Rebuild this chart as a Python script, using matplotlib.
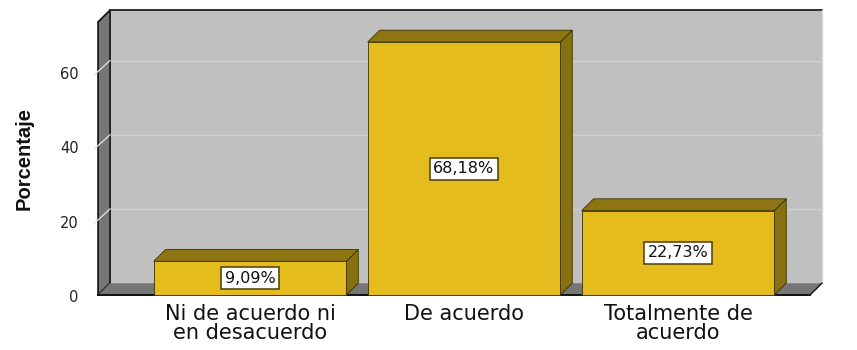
import matplotlib
matplotlib.use("Agg")
import matplotlib.pyplot as plt
from matplotlib.patches import Polygon, Rectangle

categories = ["Ni de acuerdo ni\nen desacuerdo", "De acuerdo", "Totalmente de\nacuerdo"]
percentages = [9.09, 68.18, 22.73]
value_labels = ["9,09%", "68,18%", "22,73%"]
y_ticks = [0, 20, 40, 60]
y_label = "Porcentaje"

# 3D-look geometry (data units)
BAR_W = 0.9
DX, DY = 0.056, 3.2          # depth offset of the bars / walls
X_LEFT, X_RIGHT = -0.71, 2.617
Y_TOP = 73.6

FRONT = "#E4BC1E"
TOP = "#8E7514"
SIDE = "#87700F"
EDGE = "#3a3000"
WALL = "#C0C0C0"
GRID = "#D0D0D0"
DARK = "#767676"

fig = plt.figure(figsize=(8.57, 3.5), dpi=100)
ax = fig.add_axes([0, 0, 1, 1])
ax.set_xlim(-250 / 214, 607 / 214)
ax.set_ylim(-55 / 3.71, 295 / 3.71)
ax.axis("off")

# back wall
ax.add_patch(Rectangle((X_LEFT + DX, DY), X_RIGHT - X_LEFT, Y_TOP,
                       facecolor=WALL, edgecolor="none", zorder=1))
for t in y_ticks[1:]:
    ax.plot([X_LEFT + DX, X_RIGHT + DX], [t + DY, t + DY], color=GRID, lw=1, zorder=1.5)
# top border of the back wall
ax.plot([X_LEFT + DX, X_RIGHT + DX], [Y_TOP + DY, Y_TOP + DY], color="#222222", lw=1.3, zorder=2)
ax.plot([X_RIGHT + DX, X_RIGHT + DX], [DY, Y_TOP + DY], color="#d8d8d8", lw=1, zorder=2)

# left wall
ax.add_patch(Polygon([(X_LEFT, 0), (X_LEFT + DX, DY), (X_LEFT + DX, Y_TOP + DY), (X_LEFT, Y_TOP)],
                     closed=True, facecolor=DARK, edgecolor="#111111", lw=1.2, zorder=2))
for t in y_ticks[1:]:
    ax.plot([X_LEFT - 0.02, X_LEFT + DX], [t - 0.8, t + DY], color="#E6E6E6", lw=0.9, zorder=2.5)

# floor
ax.add_patch(Polygon([(X_LEFT, 0), (X_RIGHT, 0), (X_RIGHT + DX, DY), (X_LEFT + DX, DY)],
                     closed=True, facecolor=DARK, edgecolor="none", zorder=2))
ax.plot([X_LEFT, X_RIGHT], [0, 0], color="#111111", lw=1.4, zorder=2.6)
ax.plot([X_RIGHT, X_RIGHT + DX], [0, DY], color="#111111", lw=1.0, zorder=2.6)

# bars
for i, v in enumerate(percentages):
    x0, x1 = i - BAR_W / 2, i + BAR_W / 2
    ax.add_patch(Polygon([(x1, 0), (x1 + DX, DY), (x1 + DX, v + DY), (x1, v)],
                         closed=True, facecolor=SIDE, edgecolor=EDGE, lw=0.6, zorder=3))
    ax.add_patch(Polygon([(x0, v), (x1, v), (x1 + DX, v + DY), (x0 + DX, v + DY)],
                         closed=True, facecolor=TOP, edgecolor=EDGE, lw=0.6, zorder=3))
    ax.add_patch(Rectangle((x0, 0), BAR_W, v, facecolor=FRONT, edgecolor=EDGE, lw=0.6, zorder=3.2))
    ax.text(i, v / 2, value_labels[i], ha="center", va="center", fontsize=11.5,
            family="DejaVu Sans", color="#111111", zorder=4,
            bbox=dict(boxstyle="square,pad=0.22", facecolor="white", edgecolor="#4a3d00", lw=1.1))

# tick labels
for t in y_ticks:
    ax.text(X_LEFT - 0.09, t - 0.6, str(t), ha="right", va="center", fontsize=10.5,
            family="DejaVu Sans", color="#222222")

# category labels
for i, c in enumerate(categories):
    ax.text(i, -2.3, c, ha="center", va="top", fontsize=15, family="DejaVu Sans",
            color="#111111", linespacing=0.95)

ax.text(-1.056, 36.9, y_label, rotation=90, ha="center", va="center", fontsize=14.5,
        fontweight="bold", family="Liberation Sans", color="#111111")

fig.savefig("out.png", dpi=100)
